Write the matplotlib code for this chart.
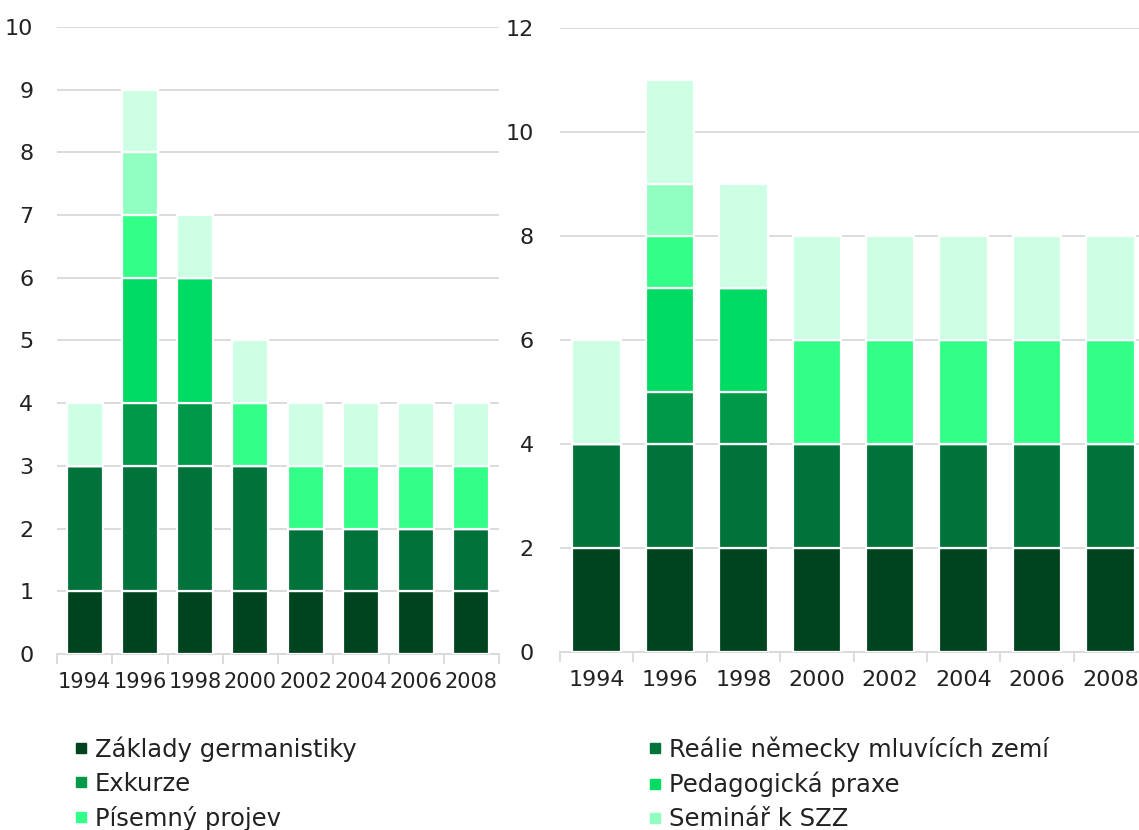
import matplotlib
matplotlib.use("Agg")
import matplotlib.pyplot as plt
from matplotlib.lines import Line2D
import numpy as np

plt.rcParams['font.family'] = ['DejaVu Sans']

years = ["1994", "1996", "1998", "2000", "2002", "2004", "2006", "2008"]
series = ["Základy germanistiky", "Reálie německy mluvících zemí", "Exkurze",
          "Pedagogická praxe", "Písemný projev", "Seminář k SZZ", "Ostatní"]
colors = ["#00441F", "#00733A", "#00994A", "#00DB64", "#33FF88", "#90FFC0", "#CCFFE4"]

# left chart
left_zaklady  = [1, 1, 1, 1, 1, 1, 1, 1]
left_realie   = [2, 2, 2, 2, 1, 1, 1, 1]
left_exkurze  = [0, 1, 1, 0, 0, 0, 0, 0]
left_praxe    = [0, 2, 2, 0, 0, 0, 0, 0]
left_projev   = [0, 1, 0, 1, 1, 1, 1, 1]
left_seminar  = [0, 1, 0, 0, 0, 0, 0, 0]
left_ostatni  = [1, 1, 1, 1, 1, 1, 1, 1]

# right chart
right_zaklady = [2, 2, 2, 2, 2, 2, 2, 2]
right_realie  = [2, 2, 2, 2, 2, 2, 2, 2]
right_exkurze = [0, 1, 1, 0, 0, 0, 0, 0]
right_praxe   = [0, 2, 2, 0, 0, 0, 0, 0]
right_projev  = [0, 1, 0, 2, 2, 2, 2, 2]
right_seminar = [0, 1, 0, 0, 0, 0, 0, 0]
right_ostatni = [2, 2, 2, 2, 2, 2, 2, 2]

left_data = [left_zaklady, left_realie, left_exkurze, left_praxe, left_projev, left_seminar, left_ostatni]
right_data = [right_zaklady, right_realie, right_exkurze, right_praxe, right_projev, right_seminar, right_ostatni]

W, H = 1139, 830
fig = plt.figure(figsize=(W / 100, H / 100), dpi=100)

def px_axes(x0, x1, ytop, ybot):
    return fig.add_axes([x0 / W, 1 - ybot / H, (x1 - x0) / W, (ybot - ytop) / H])

ax1 = px_axes(57, 499, 27, 654)
ax2 = px_axes(560, 1147, 28, 652)

grid_c = "#D9D9D9"

def draw(ax, data, width, ymax, ystep, ypad, xsize):
    x = np.arange(len(years))
    bottom = np.zeros(len(years))
    for vals, c in zip(data, colors):
        v = np.array(vals, dtype=float)
        ax.bar(x, v, width, bottom=bottom, color=c, edgecolor="white", linewidth=1.6, zorder=3)
        bottom += v
    ax.set_xlim(-0.5, len(years) - 0.5)
    ax.set_ylim(0, ymax)
    ax.set_yticks(np.arange(0, ymax + 0.01, ystep))
    ax.yaxis.grid(True, color=grid_c, linewidth=1.3, zorder=0)
    ax.set_axisbelow(True)
    for s in ["top", "right", "left"]:
        ax.spines[s].set_visible(False)
    ax.spines["bottom"].set_color(grid_c)
    ax.spines["bottom"].set_linewidth(1.3)
    ax.set_xticks(x)
    ax.set_xticklabels(years)
    ax.set_xticks(np.arange(-0.5, len(years)), minor=True)
    ax.tick_params(axis="x", which="major", length=0, pad=13, labelsize=xsize, labelcolor="#222222")
    ax.tick_params(axis="x", which="minor", length=7, width=1.3, color=grid_c)
    ax.tick_params(axis="y", length=0, pad=ypad, labelsize=16, labelcolor="#222222")

draw(ax1, left_data, 0.65, 10, 1, 17, 15)
draw(ax2, right_data, 0.66, 12, 2, 19, 16)

def handle(c):
    return Line2D([], [], marker="s", linestyle="", markersize=7.5, color=c)

col1 = [0, 2, 4]
col2 = [1, 3, 5]
leg_kw = dict(frameon=False, fontsize=17.5, handletextpad=0.25, labelspacing=0.42,
              borderpad=0, borderaxespad=0, handlelength=0.7, labelcolor="#222222")
fig.legend([handle(colors[i]) for i in col1], [series[i] for i in col1],
           loc="upper left", bbox_to_anchor=(72 / W, 1 - 736 / H), **leg_kw)
fig.legend([handle(colors[i]) for i in col2], [series[i] for i in col2],
           loc="upper left", bbox_to_anchor=(646 / W, 1 - 736 / H), **leg_kw)

fig.savefig("out.png", dpi=100)
